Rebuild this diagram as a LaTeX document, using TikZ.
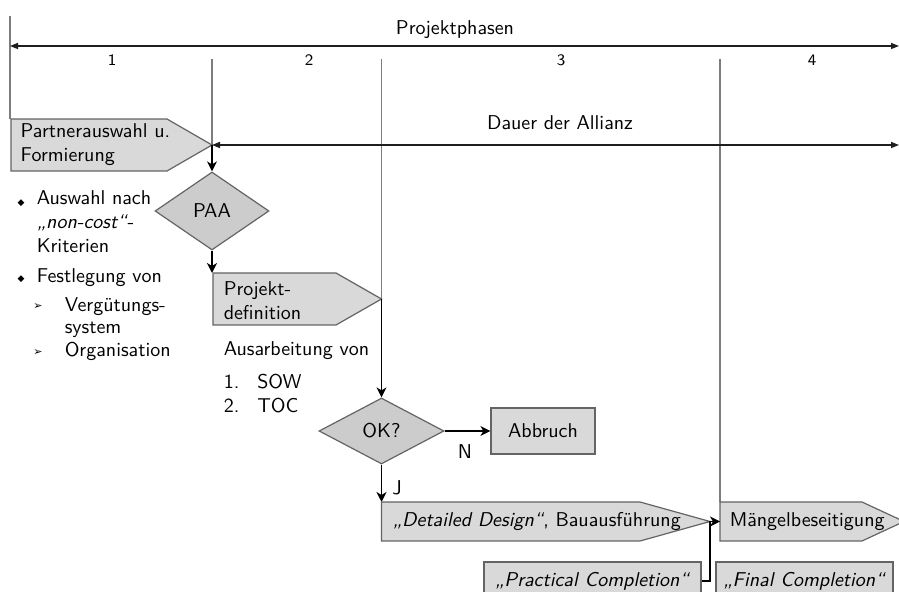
\documentclass[tikz,border=0pt]{standalone}
\usepackage{fontspec}
\newfontfamily\bulletfont{DejaVu Sans}
\renewcommand{\familydefault}{\sfdefault}
\usetikzlibrary{arrows.meta,shapes.geometric}

\tikzset{every picture/.style={line width=0.75pt}}

\begin{document}
\begin{tikzpicture}[x=0.5pt,y=0.5pt,yscale=-1,xscale=1,
  phaseline/.style={draw={rgb, 255:red, 125; green, 125; blue, 125 }, line width=0.6pt},
  flowshape/.style={draw={rgb, 255:red, 100; green, 100; blue, 100 }, fill={rgb, 255:red, 217; green, 217; blue, 217 }, line width=0.6pt},
  decision/.style={diamond, draw={rgb, 255:red, 100; green, 100; blue, 100 }, fill={rgb, 255:red, 204; green, 204; blue, 204 }, line width=0.6pt, inner sep=0pt},
  flowarrow/.style={-{Stealth[length=5pt,width=5pt,inset=1.5pt]}, line width=0.7pt},
  rangearrow/.style={{Triangle[length=4pt,width=3pt]}-{Triangle[length=4pt,width=3pt]}, draw={rgb, 255:red, 30; green, 30; blue, 30 }, line width=0.7pt},
  textblock/.style={align=left, inner sep=0pt},
  dotbullet/.style={inner sep=0pt, font=\bulletfont\fontsize{4.5}{4.5}\selectfont},
  arrowbullet/.style={inner sep=0pt, font=\bulletfont\fontsize{5.5}{5.5}\selectfont},
  ]
\useasboundingbox (0,0) rectangle (899,592);

%Coordinates
\coordinate (phl) at (10,46);
\coordinate (phr) at (899,46);
\coordinate (d1) at (212,59);
\coordinate (d2) at (381.5,59);
\coordinate (d3) at (720,59);
\coordinate (patip) at (212,145);
\coordinate (daend) at (899,145);
\coordinate (pdtop) at (212,273);
\coordinate (pdtip) at (381.5,299);
\coordinate (ddtop) at (381.5,502);
\coordinate (ddtip) at (710,521.5);
\coordinate (mbtop) at (720,502);
\coordinate (mbin) at (720,521.5);

%Phases
\draw [phaseline]    (10,16) -- (10,119) ;
\draw [rangearrow]    (phl) -- (phr) ;
\node (phasen) at (455,30) {Projektphasen};
\node [font=\footnotesize] (n1) at (112,60) {1};
\node [font=\footnotesize] (n2) at (309,60) {2};
\node [font=\footnotesize] (n3) at (561,60) {3};
\node [font=\footnotesize] (n4) at (812,60) {4};
\draw [phaseline]    (d1) -- (patip) ;
\draw [phaseline]    (d2) -- (pdtip) ;
\draw [phaseline]    (d3) -- (mbtop) ;

%Shape: Partnerauswahl
\draw [flowshape]    (11,119) -- (167,119) -- (212,145) -- (167,171) -- (11,171) -- cycle ;
\node [textblock, anchor=west] (pa) at (20,145) {Partnerauswahl u.\\Formierung};
\draw [rangearrow]    (patip) -- (daend) ;
\node (dauer) at (560,123) {Dauer der Allianz};

%Decision PAA
\node [decision, minimum width=57pt, minimum height=39pt] (paa) at (212,211) {PAA};
\draw [flowarrow]    (patip) -- (paa.north) ;
\draw [flowarrow]    (paa.south) -- (pdtop) ;

%Left text
\node [dotbullet] (b1) at (21,203) {◆};
\node [textblock, anchor=west] (crit) at (36,222) {Auswahl nach\\\textit{„non-cost“}-\\Kriterien};
\node [dotbullet] (b2) at (21,279) {◆};
\node [textblock, anchor=base west] (fest) at (36,283) {Festlegung von};
\node [arrowbullet] (s1) at (38,307) {➢};
\node [textblock, anchor=west] (verg) at (64,318) {Vergütungs-\\[-1pt]system};
\node [arrowbullet] (s2) at (38,353) {➢};
\node [textblock, anchor=base west] (orga) at (64,357) {Organisation};

%Shape: Projektdefinition
\draw [flowshape]    (213,273) -- (336,273) -- (381.5,299) -- (336,325) -- (213,325) -- cycle ;
\node [textblock, anchor=west] (pd) at (223,301) {Projekt-\\definition};
\node [textblock, anchor=base west] (ausarb) at (223,356) {Ausarbeitung von};
\node [textblock, anchor=west] (docs) at (223,396) {\begin{tabular}{@{}l@{\hspace{9pt}}l@{}}1. & SOW\\2. & TOC\end{tabular}};

%Decision OK
\node [decision, minimum width=62.5pt, minimum height=33pt] (ok) at (381.5,431) {OK?};
\draw [flowarrow]    (pdtip) -- (ok.north) ;
\node [flowshape, minimum width=52pt, minimum height=23pt] (abbruch) at (543,431) {Abbruch};
\draw [flowarrow]    (ok.east) -- (abbruch.west) ;
\node (nein) at (465,452) {N};
\draw [flowarrow]    (ok.south) -- (ddtop) ;
\node (ja) at (397,488) {J};

%Shape: Detailed Design
\draw [flowshape]    (381.5,502) -- (640,502) -- (710,521.5) -- (640,541) -- (381.5,541) -- cycle ;
\node [textblock, anchor=west] (dd) at (392,521.5) {\textit{„Detailed Design“}, Bauausführung};

%Shape: Maengelbeseitigung
\draw [flowshape]    (720,502) -- (862,502) -- (904,521.5) -- (862,541) -- (720,541) -- cycle ;
\node [textblock, anchor=west] (mb) at (729,521.5) {Mängelbeseitigung};
\draw [flowarrow]    (ddtip) -- (mbin) ;

%Completion
\node [flowshape, minimum width=108.5pt, minimum height=19pt] (pc) at (592.5,581) {\textit{„Practical Completion“}};
\node [flowshape, minimum width=88.5pt, minimum height=19pt] (fc) at (804.5,581) {\textit{„Final Completion“}};
\draw [line width=0.7pt]    (pc.east) -| (ddtip) ;

\end{tikzpicture}
\end{document}
